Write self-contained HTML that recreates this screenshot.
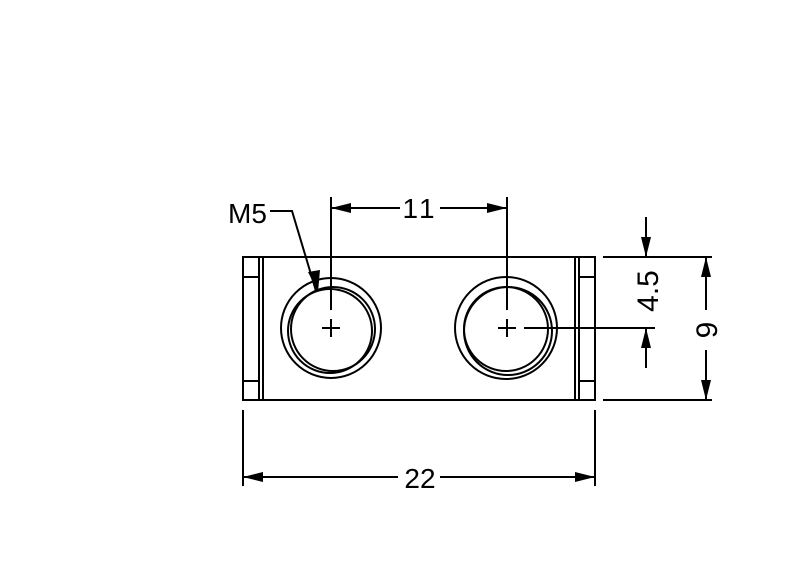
<!DOCTYPE html>
<html><head><style>html,body{margin:0;padding:0;background:#fff}</style></head><body>
<svg width="800" height="576" viewBox="0 0 800 576" xmlns="http://www.w3.org/2000/svg" style="display:block">
<defs>
<marker id="a" viewBox="0 0 20 10" refX="20" refY="5" markerWidth="20" markerHeight="10" markerUnits="userSpaceOnUse" orient="auto"><path d="M0,0 L20,5 L0,10 Z" fill="#000"/></marker>
</defs>
<g stroke="#000" stroke-width="2" fill="none">
<rect x="243" y="257" width="352" height="143"/>
<line x1="259" y1="257" x2="259" y2="400"/>
<line x1="263" y1="257" x2="263" y2="400"/>
<line x1="243" y1="277" x2="259" y2="277"/>
<line x1="243" y1="381" x2="259" y2="381"/>
<line x1="575" y1="257" x2="575" y2="400"/>
<line x1="579" y1="257" x2="579" y2="400"/>
<line x1="579" y1="277" x2="595" y2="277"/>
<line x1="579" y1="381" x2="595" y2="381"/>
<circle cx="331" cy="328" r="50"/>
<circle cx="333" cy="329" r="42"/>
<circle cx="330" cy="331" r="42"/>
<circle cx="506" cy="328" r="51"/>
<circle cx="506" cy="329" r="42"/>
<circle cx="508" cy="331" r="44"/>
<line x1="322" y1="328" x2="340" y2="328"/><line x1="331" y1="319" x2="331" y2="337"/>
<line x1="498" y1="328" x2="516" y2="328"/><line x1="507" y1="319" x2="507" y2="337"/>
<line x1="331" y1="197" x2="331" y2="310"/>
<line x1="507" y1="197" x2="507" y2="310"/>
<line x1="400" y1="208" x2="331" y2="208" marker-end="url(#a)"/>
<line x1="440" y1="208" x2="507" y2="208" marker-end="url(#a)"/>
<line x1="524" y1="328" x2="655" y2="328"/>
<line x1="603" y1="257" x2="712" y2="257"/>
<line x1="603" y1="400" x2="712" y2="400"/>
<line x1="646" y1="217" x2="646" y2="257" marker-end="url(#a)"/>
<line x1="646" y1="368" x2="646" y2="328" marker-end="url(#a)"/>
<line x1="706" y1="310" x2="706" y2="257" marker-end="url(#a)"/>
<line x1="706" y1="350" x2="706" y2="400" marker-end="url(#a)"/>
<line x1="243" y1="410" x2="243" y2="486"/>
<line x1="595" y1="410" x2="595" y2="486"/>
<line x1="398" y1="477" x2="243" y2="477" marker-end="url(#a)"/>
<line x1="440" y1="477" x2="595" y2="477" marker-end="url(#a)"/>
<polyline points="270,211 292,211 316,291"/>
</g>
<path d="M308,272 L318,292 L320,270 Z" fill="#000"/>
<g font-family="Liberation Sans, sans-serif" font-size="28" fill="#000">
<text x="228" y="223">M5</text>
<text x="420" y="218" text-anchor="middle" letter-spacing="3">11</text>
<text x="420" y="488" text-anchor="middle">22</text>
<text transform="translate(658,291) rotate(-90)" text-anchor="middle" font-size="30">4.5</text>
<text transform="translate(717,330) rotate(-90)" text-anchor="middle" font-size="30">9</text>
</g>
</svg>
</body></html>
